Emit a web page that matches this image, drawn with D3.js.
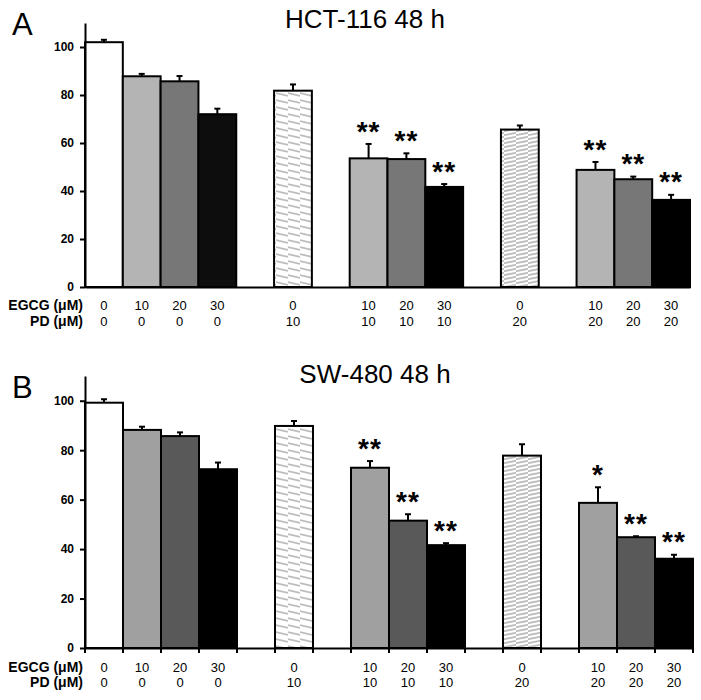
<!DOCTYPE html>
<html>
<head>
<meta charset="utf-8">
<script src="https://cdnjs.cloudflare.com/ajax/libs/d3/7.8.5/d3.min.js"></script>
<style>
  body { margin: 0; background: #fff; }
  svg { font-family: Arial, "Liberation Sans", sans-serif; }
</style>
</head>
<body>
<div id="chart"></div>
<script>
// treatment labels under each bar
var egcg = ["0", "10", "20", "30", "0", "10", "20", "30", "0", "10", "20", "30"];
var pd = ["0", "0", "0", "0", "10", "10", "10", "10", "20", "20", "20", "20"];
// which of the 16 column slots each bar sits in
var slots = [0, 1, 2, 3, 5, 7, 8, 9, 11, 13, 14, 15];
var yTicks = [0, 20, 40, 60, 80, 100];

// panel A: HCT-116
var hctMeans = [102, 87.8, 85.7, 72, 81.8, 53.6, 53.3, 41.7, 65.6, 48.8, 44.9, 36.3];
var hctErr = [1, 1, 2.2, 2.3, 2.6, 6, 2.4, 1.2, 1.7, 3.3, 1.1, 2.1];
var hctSig = ["", "", "", "", "", "**", "**", "**", "", "**", "**", "**"];

// panel B: SW-480
var swMeans = [99.2, 88.2, 85.7, 72.3, 89.8, 72.9, 51.5, 41.6, 77.8, 58.7, 44.8, 36.1];
var swErr = [1.4, 1.3, 1.5, 2.7, 2, 2.7, 2.6, 0.8, 4.6, 6.3, 0.4, 1.6];
var swSig = ["", "", "", "", "", "**", "**", "**", "", "*", "**", "**"];

var svg = d3.select("#chart").append("svg")
    .attr("width", 701)
    .attr("height", 700);

var defs = svg.append("defs");

/* hatch patterns for the PD-only bars */
function make_hatch(id, step, dy) {
    var p = defs.append("pattern")
        .attr("id", id)
        .attr("patternUnits", "userSpaceOnUse")
        .attr("width", 12)
        .attr("height", step);
    p.append("rect").attr("width", 12).attr("height", step).attr("fill", "#fff");
    p.append("path")
        .attr("d", "M0," + (step / 2 - dy / 2) + " L12," + (step / 2 + dy / 2))
        .attr("stroke", "#bdbdbd")
        .attr("stroke-width", 1.8);
}
make_hatch("hatch10", 7, 3);
make_hatch("hatch20", 4, -2.5);

function draw_panel(opt) {
    var g = svg.append("g");

    var x = d3.scaleBand()
        .domain(d3.range(16))
        .range([opt.x0, opt.x1])
        .padding(0);

    var y = d3.scaleLinear()
        .domain([0, 110])
        .range([opt.yBase, opt.yTop]);

    var bars = slots.map(function(s, i) {
        return {slot: s, mean: opt.means[i], err: opt.errs[i], sig: opt.sig[i],
                fill: opt.fills[i], egcg: egcg[i], pd: pd[i]};
    });

    // bars
    g.selectAll("rect.bar")
        .data(bars)
        .enter()
        .append("rect")
        .attr("class", "bar")
        .attr("x", function(d) { return x(d.slot); })
        .attr("y", function(d) { return y(d.mean); })
        .attr("width", x.bandwidth())
        .attr("height", function(d) { return y(0) - y(d.mean); })
        .attr("fill", function(d) { return d.fill; })
        .attr("stroke", "#000")
        .attr("stroke-width", 2);

    // error bars (upper only)
    var eb = g.selectAll("g.err")
        .data(bars)
        .enter()
        .append("g")
        .attr("class", "err")
        .attr("stroke", "#000")
        .attr("stroke-width", 2);
    eb.append("line")
        .attr("x1", function(d) { return x(d.slot) + x.bandwidth() / 2; })
        .attr("x2", function(d) { return x(d.slot) + x.bandwidth() / 2; })
        .attr("y1", function(d) { return y(d.mean); })
        .attr("y2", function(d) { return y(d.mean + d.err); });
    eb.append("line")
        .attr("x1", function(d) { return x(d.slot) + x.bandwidth() / 2 - 3; })
        .attr("x2", function(d) { return x(d.slot) + x.bandwidth() / 2 + 3; })
        .attr("y1", function(d) { return y(d.mean + d.err); })
        .attr("y2", function(d) { return y(d.mean + d.err); });

    // significance stars
    g.selectAll("text.sig")
        .data(bars.filter(function(d) { return d.sig !== ""; }))
        .enter()
        .append("text")
        .attr("class", "sig")
        .attr("x", function(d) { return x(d.slot) + x.bandwidth() / 2; })
        .attr("y", function(d) { return y(d.mean + d.err) + 12; })
        .attr("text-anchor", "middle")
        .attr("dy", "-0.55em")
        .style("font-size", "28px")
        .style("font-weight", "bold")
        .style("letter-spacing", "1px")
        .text(function(d) { return d.sig; });

    // y axis
    var yAxis = g.append("g")
        .attr("transform", "translate(" + opt.x0 + ",0)")
        .call(d3.axisLeft(y).tickValues(yTicks).tickSize(5).tickSizeOuter(0).tickPadding(6));
    yAxis.select(".domain").attr("stroke-width", 2);
    yAxis.selectAll(".tick line").attr("stroke-width", 2);
    yAxis.selectAll(".tick text")
        .style("font-size", "12px")
        .style("font-weight", "bold")
        .attr("fill", "#000");

    // x axis line
    var xAxis = g.append("g")
        .attr("transform", "translate(0," + opt.yBase + ")")
        .call(d3.axisBottom(x).tickSize(0).tickFormat(""));
    xAxis.select(".domain").attr("stroke-width", 2);
    if (opt.xTicks) {
        g.selectAll("line.xtick")
            .data(d3.range(17))
            .enter()
            .append("line")
            .attr("class", "xtick")
            .attr("x1", function(d) { return opt.x0 + d * x.step(); })
            .attr("x2", function(d) { return opt.x0 + d * x.step(); })
            .attr("y1", opt.yBase)
            .attr("y2", opt.yBase + 5)
            .attr("stroke", "#000")
            .attr("stroke-width", 2);
    }

    // treatment rows
    var rows = [{name: "EGCG (\u03bcM)", key: "egcg", y: opt.row1},
                {name: "PD (\u03bcM)", key: "pd", y: opt.row2}];
    rows.forEach(function(r) {
        g.append("text")
            .attr("x", opt.x0 - 2)
            .attr("y", r.y)
            .attr("text-anchor", "end")
            .style("font-size", "14px")
            .style("font-weight", "bold")
            .text(r.name);
        g.selectAll("text.lab-" + r.key)
            .data(bars)
            .enter()
            .append("text")
            .attr("class", "lab-" + r.key)
            .attr("x", function(d) { return x(d.slot) + x.bandwidth() / 2; })
            .attr("y", r.y)
            .attr("text-anchor", "middle")
            .style("font-size", "13px")
            .text(function(d) { return d[r.key]; });
    });

    // titles
    g.append("text")
        .attr("x", opt.titleX)
        .attr("y", opt.titleY)
        .attr("text-anchor", "middle")
        .style("font-size", "26px")
        .text(opt.title);
    g.append("text")
        .attr("x", 12)
        .attr("y", opt.letterY)
        .style("font-size", "31px")
        .text(opt.letter);
}

draw_panel({
    title: "HCT-116 48 h", letter: "A",
    titleX: 365, titleY: 28, letterY: 35,
    x0: 85, x1: 690, yBase: 287, yTop: 23,
    row1: 310, row2: 326, xTicks: false,
    means: hctMeans, errs: hctErr, sig: hctSig,
    fills: ["#fff", "#b4b4b4", "#777777", "#0d0d0d", "url(#hatch10)",
            "#b4b4b4", "#777777", "#000", "url(#hatch20)", "#b4b4b4", "#777777", "#000"]
});

draw_panel({
    title: "SW-480 48 h", letter: "B",
    titleX: 375, titleY: 383, letterY: 398,
    x0: 85, x1: 693, yBase: 648, yTop: 376,
    row1: 672, row2: 687, xTicks: true,
    means: swMeans, errs: swErr, sig: swSig,
    fills: ["#fff", "#a0a0a0", "#595959", "#000", "url(#hatch10)",
            "#a0a0a0", "#595959", "#000", "url(#hatch20)", "#a0a0a0", "#595959", "#000"]
});
</script>
</body>
</html>
